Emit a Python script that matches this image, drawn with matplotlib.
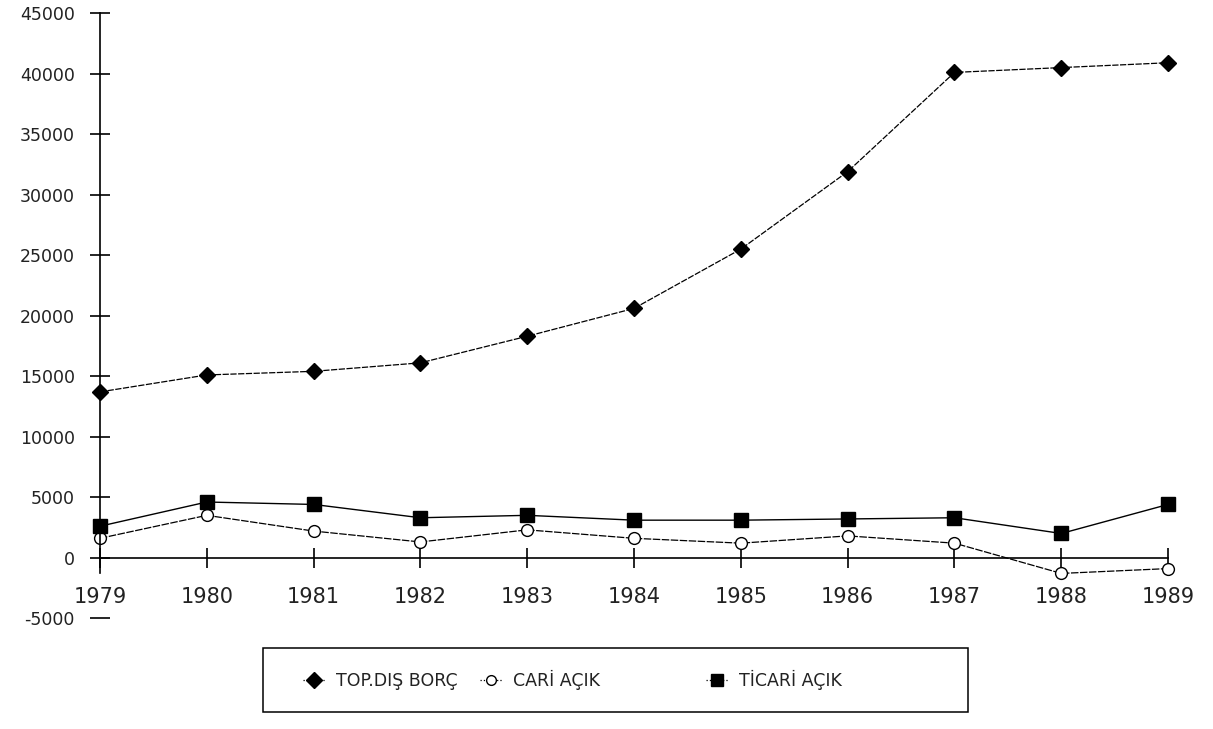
import numpy as np
import matplotlib.pyplot as plt
from matplotlib.lines import Line2D
from matplotlib.patches import Rectangle

plt.rcParams["axes.unicode_minus"] = False

years = [1979, 1980, 1981, 1982, 1983, 1984, 1985, 1986, 1987, 1988, 1989]
top_dis_borc = [13700, 15100, 15400, 16100, 18300, 20600, 25500, 31900, 40100, 40500, 40900]
cari_acik = [1600, 3500, 2200, 1300, 2300, 1600, 1200, 1800, 1200, -1300, -900]
ticari_acik = [2600, 4600, 4400, 3300, 3500, 3100, 3100, 3200, 3300, 2000, 4400]
y_ticks = [-5000, 0, 5000, 10000, 15000, 20000, 25000, 30000, 35000, 40000, 45000]
labels = ["TOP.DIŞ BORÇ", "CARİ AÇIK", "TİCARİ AÇIK"]

fig = plt.figure(figsize=(12.13, 7.29), dpi=100)
ax = fig.add_axes([0.0824, 0.152, 0.8806, 0.830])

ax.plot(years, top_dis_borc, color="black", lw=0.9, ls=(0, (5, 1.2)),
        marker="D", ms=8.5, mfc="black", mec="black", clip_on=False)
ax.plot(years, cari_acik, color="black", lw=0.9, ls=(0, (6, 1.2)),
        marker="o", ms=8.5, mfc="white", mec="black", mew=1.0, clip_on=False)
ax.plot(years, ticari_acik, color="black", lw=1.0,
        marker="s", ms=10, mfc="black", mec="black", clip_on=False)

ax.set_xlim(1979, 1989)
ax.set_ylim(-5000, 45000)
ax.set_xticks(years)
ax.set_yticks(y_ticks)

#axes: left spine + x axis through zero
ax.spines["top"].set_visible(False)
ax.spines["right"].set_visible(False)
ax.spines["bottom"].set_position(("data", 0))
ax.spines["left"].set_bounds(-1300, 45000)
for s in ["left", "bottom"]:
    ax.spines[s].set_linewidth(1.2)

ax.tick_params(axis="x", direction="inout", length=14, width=1.2, pad=14,
               labelsize=15, labelcolor="#222222")
ax.tick_params(axis="y", direction="inout", length=14, width=1.2, pad=11,
               labelsize=12.5, labelcolor="#222222")
ax.patch.set_visible(False)

handles = [
    Line2D([], [], color="black", lw=0.9, ls=":", marker="D", ms=8, mfc="black"),
    Line2D([], [], color="black", lw=0.9, ls=":", marker="o", ms=7, mfc="white"),
    Line2D([], [], color="black", lw=0.9, ls=":", marker="s", ms=9, mfc="black"),
]
leg_kw = dict(loc="center left", frameon=False, fontsize=12.5, handlelength=1.3,
              handletextpad=0.6, borderpad=0, borderaxespad=0, labelcolor="#222222")
# legend entries are unevenly spaced in the original, so two legends + one box
leg1 = fig.legend(handles[:2], labels[:2], ncol=2, columnspacing=1.3,
                  bbox_to_anchor=(303 / 1213, 0.0672), **leg_kw)
leg2 = fig.legend(handles[2:], labels[2:], ncol=1,
                  bbox_to_anchor=(706 / 1213, 0.0672), **leg_kw)
fig.patches.append(Rectangle((263 / 1213, 17 / 729), 705 / 1213, 64 / 729,
                             transform=fig.transFigure, fill=False,
                             edgecolor="black", lw=1.1))

fig.savefig("out.png", dpi=100)
